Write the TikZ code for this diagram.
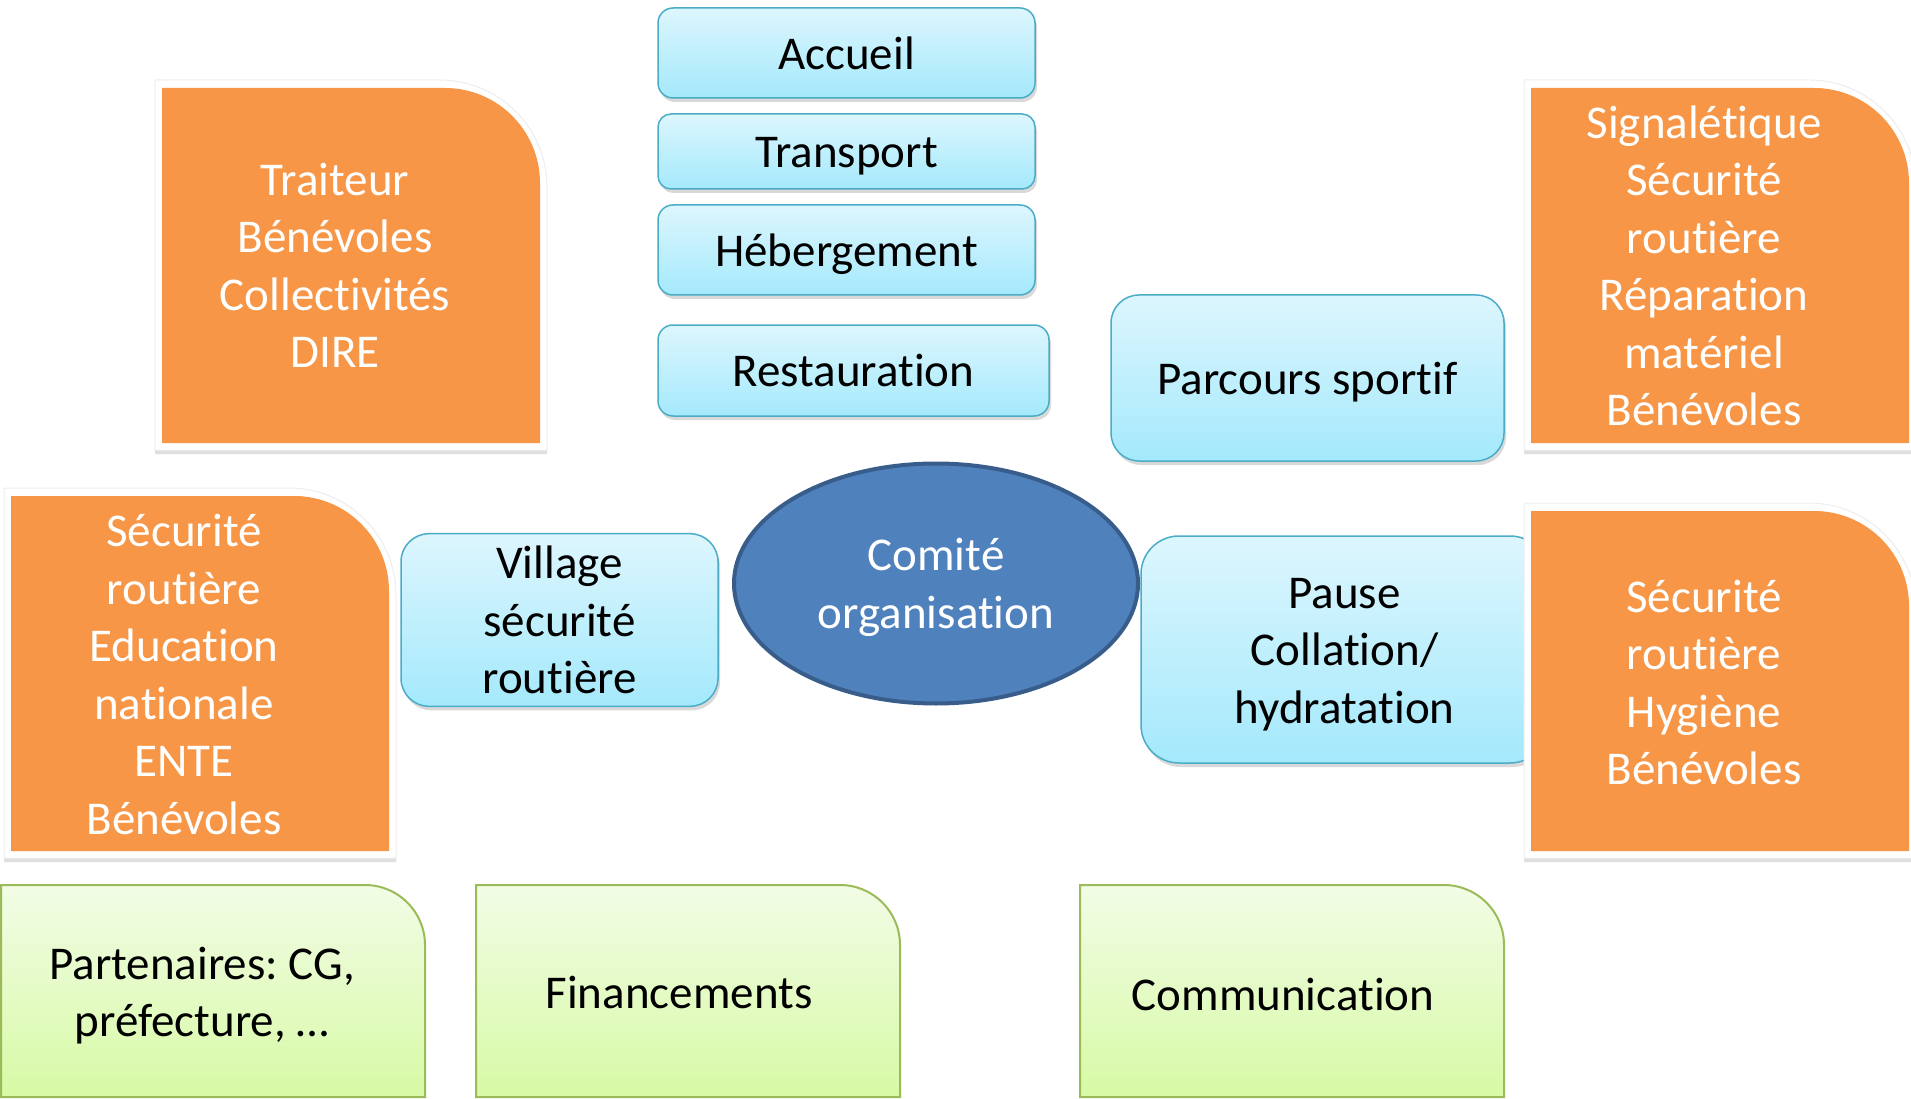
\documentclass[tikz,border=0pt]{standalone}
\usepackage{fontspec}
\setmainfont{Carlito}[Ligatures={NoCommon,NoContextual}]
\usetikzlibrary{shadows,shapes.geometric}
\frenchspacing

\definecolor{bluetop}{HTML}{DDF6FD}
\definecolor{bluebot}{HTML}{A4E9FC}
\definecolor{blueline}{HTML}{4BACC6}
\definecolor{orangeacc}{HTML}{F79646}
\definecolor{ellfill}{HTML}{4F81BD}
\definecolor{ellline}{HTML}{385D8A}
\definecolor{greentop}{HTML}{F2FCE6}
\definecolor{greenbot}{HTML}{D7FAA5}
\definecolor{greenline}{HTML}{9BBB59}

\begin{document}
\begin{tikzpicture}[x=1pt,y=-1pt,
    every node/.style={font=\fontsize{47}{57.5}\selectfont, align=center, inner sep=0pt},
    oneline/.style={text height=45pt, text depth=12.6pt},
    twolines/.style={text height=102.5pt, text depth=12.6pt},
    threelines/.style={text height=160pt, text depth=12.6pt},
    bluebox/.style={draw=blueline, line width=1.5pt, top color=bluetop, bottom color=bluebot,
        drop shadow={shadow xshift=2pt, shadow yshift=-4pt, opacity=.3}},
    whitetext/.style={text=white},
    comite/.style={ellipse, draw=ellline, line width=4pt, fill=ellfill, text=white,
        minimum width=404pt, minimum height=240pt},
    framecard/.style={fill=white, draw=black!7, line width=1pt,
        drop shadow={shadow xshift=0pt, shadow yshift=-4pt, opacity=.25}},
    orangecard/.style={fill=orangeacc},
    greencard/.style={draw=greenline, line width=2pt, top color=greentop, bottom color=greenbot}]
        \useasboundingbox (0,0) rectangle (1911,1099);
        \clip (0,0) rectangle (1911,1099);

        % logistique
        \node[bluebox, oneline, rounded corners=15pt, minimum width=377pt, minimum height=90pt] (accueil) at (846.5,53) {Accueil};
        \node[bluebox, oneline, rounded corners=13pt, minimum width=377pt, minimum height=75pt] (transport) at (846.5,151.5) {Transport};
        \node[bluebox, oneline, rounded corners=15pt, minimum width=377pt, minimum height=90pt] (heberg) at (846.5,250) {Hébergement};
        \node[bluebox, oneline, rounded corners=15pt, minimum width=391pt, minimum height=91pt] (resto) at (853.5,370.5) {Restauration};
        \node[bluebox, oneline, rounded corners=28pt, minimum width=393pt, minimum height=166pt] (parcours) at (1307.5,378) {Parcours sportif};
        \node[bluebox, threelines, rounded corners=28pt, minimum width=317pt, minimum height=168pt] (village) at (559.5,620) {Village\\sécurité\\routière};
        \node[bluebox, threelines, rounded corners=38pt, minimum width=407pt, minimum height=227pt] (pause) at (1344.5,649.5) {Pause\\Collation/\\hydratation};

        \node[comite, twolines] (comite) at (936,583.5) {Comité\\organisation};

        % orange cards
        \foreach \x/\y/\h in {162/88/355, 1531/88/355, 11/496/355, 1531/511/340} {
            \path[framecard] (\x-7,\y+\h+7) -- (\x-7,\y-8) -- (\x+278,\y-8)
                arc[start angle=90, end angle=0, radius=107pt] -- (\x+385,\y+\h+7) -- cycle;
            \path[orangecard] (\x,\y+\h) -- (\x,\y) -- (\x+283,\y)
                arc[start angle=90, end angle=0, radius=95pt] -- (\x+378,\y+\h) -- cycle;
        }
        \node[whitetext] (restoaide) at (335,265.5) {Traiteur\\Bénévoles\\Collectivités\\DIRE};
        \node[whitetext] (parcoursaide) at (1704,265.7) {Signalétique\\Sécurité\\routière\\Réparation\\matériel\\Bénévoles};
        \node[whitetext] (villageaide) at (184,674.6) {Sécurité\\routière\\Education\\nationale\\ENTE\\Bénévoles};
        \node[whitetext] (pauseaide) at (1704,682.5) {Sécurité\\routière\\Hygiène\\Bénévoles};

        % green cards
        \foreach \x in {1,476,1080}
            \path[greencard] (\x,1097) -- (\x,885) -- (\x+364,885)
                arc[start angle=90, end angle=0, radius=60pt] -- (\x+424,1097) -- cycle;
        \node[twolines] (partenaires) at (202,992) {Partenaires: CG,\\préfecture, …};
        \node[oneline] (financements) at (679,992) {Financements};
        \node[oneline] (communication) at (1283,994.5) {Communication};
\end{tikzpicture}
\end{document}
